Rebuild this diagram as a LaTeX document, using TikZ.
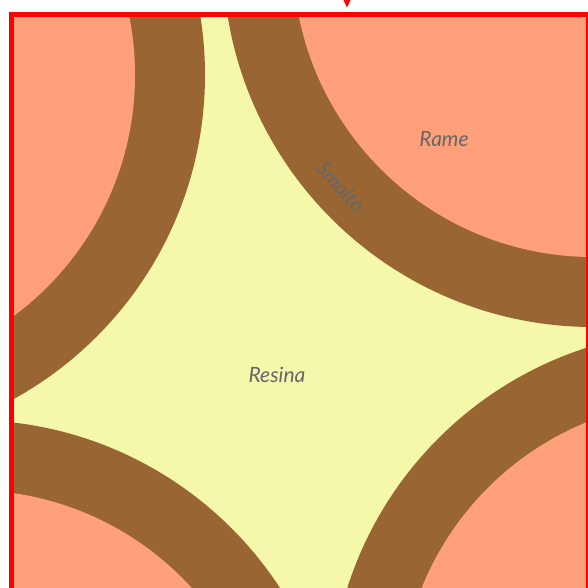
\documentclass[tikz,border=0pt]{standalone}
\usepackage{fontspec}
\setsansfont{Lato}
\usepackage{xcolor}
\definecolor{rameCol}{HTML}{FFA07A}
\definecolor{smaltoCol}{HTML}{996633}
\definecolor{resinaCol}{HTML}{F5F8AB}
\definecolor{labelCol}{HTML}{666666}
\tikzset{
  resina/.style={fill=resinaCol},
  smalto/.style={fill=smaltoCol},
  rame/.style={fill=rameCol},
  frame/.style={draw=red, line width=5pt},
  marker/.style={fill=red},
  labeltext/.style={font=\sffamily\itshape\fontsize{21}{24}\selectfont, text=labelCol, inner sep=0pt}
}

\begin{document}
\begin{tikzpicture}[x=1pt, y=-1pt]
  \useasboundingbox (0,0) rectangle (588,588);

  % section, clipped to the frame
  \begin{scope}
    \clip (11.5,14.5) rectangle (588.5,591.5);
    \fill[resina] (11.5,14.5) rectangle (588.5,591.5);
    \foreach \cx/\cy in {-165/75, 593/-43, 700/700, -30/790} {
      \fill[smalto] (\cx,\cy) circle[radius=370];
      \fill[rame] (\cx,\cy) circle[radius=300];
    }
  \end{scope}

  \draw[frame] (11.5,14.5) rectangle (588.5,591.5);
  \fill[marker] (343.5,0) -- (350.5,0) -- (347,7.5) -- cycle;

  \node[labeltext] (rame) at (444,139) {Rame};
  \node[labeltext, rotate=-48] (smalto) at (341,187) {Smalto};
  \node[labeltext] (resina) at (277,375) {Resina};
\end{tikzpicture}
\end{document}
